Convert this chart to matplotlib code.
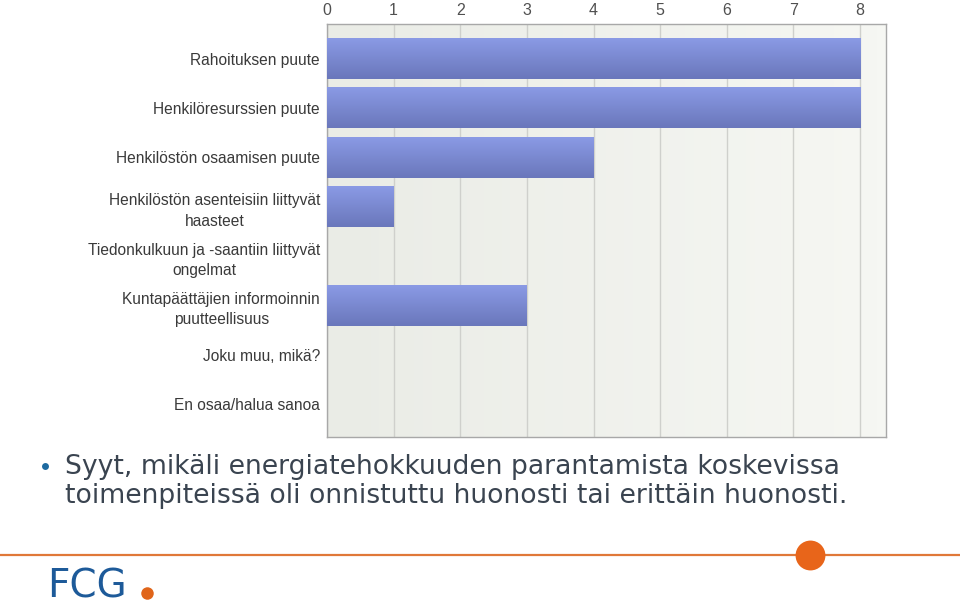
import numpy as np
import matplotlib
matplotlib.use("Agg")
import matplotlib.pyplot as plt
from matplotlib.colors import to_rgb

# vastaukset
kategoriat = [
    "Rahoituksen puute",
    "Henkilöresurssien puute",
    "Henkilöstön osaamisen puute",
    "Henkilöstön asenteisiin liittyvät\nhaasteet",
    "Tiedonkulkuun ja -saantiin liittyvät\nongelmat",
    "Kuntapäättäjien informoinnin\npuutteellisuus",
    "Joku muu, mikä?",
    "En osaa/halua sanoa",
]
arvot = [8, 8, 4, 1, 0, 3, 0, 0]
x_tikit = list(range(0, 9))

teksti = ("Syyt, mikäli energiatehokkuuden parantamista koskevissa\n"
          "toimenpiteissä oli onnistuttu huonosti tai erittäin huonosti.")

fig = plt.figure(figsize=(9.6, 6.05), dpi=100)
ax = fig.add_axes([327 / 960, 1 - 437 / 605, 559 / 960, 413 / 605])

y = np.arange(len(kategoriat))
palkit = ax.barh(y, arvot, height=0.83, color="#7a88d2", zorder=3)

# liukuvärit palkkeihin
ylä = np.array(to_rgb("#8b9be6"))
ala = np.array(to_rgb("#6a77bb"))
t = np.linspace(0, 1, 64)[:, None, None]
grad = ylä * (1 - t) + ala * t
for p in palkit:
    if p.get_width() <= 0:
        continue
    x0, y0 = p.get_x(), p.get_y()
    x1, y1 = x0 + p.get_width(), y0 + p.get_height()
    im = ax.imshow(grad, extent=(x0, x1, y1, y0), aspect="auto", zorder=4,
                   interpolation="bilinear")
    im.set_clip_path(p)

# tausta
vasen = np.array(to_rgb("#eaece6"))
oikea = np.array(to_rgb("#f6f7f3"))
s = np.linspace(0, 1, 64)[None, :, None]
tausta = vasen * (1 - s) + oikea * s
ax.imshow(tausta, extent=(0, 8.39, 7.66, -0.70), aspect="auto", zorder=0)

ax.set_xlim(0, 8.39)
ax.set_ylim(7.66, -0.70)

ax.set_xticks(x_tikit)
ax.xaxis.tick_top()
ax.tick_params(axis="x", length=0, pad=4, labelsize=11.5, labelcolor="#505050")
ax.grid(axis="x", color="#cfd0cc", linewidth=1, zorder=1)
ax.set_axisbelow(True)

ax.set_yticks(y)
ax.set_yticklabels(kategoriat, fontsize=11.2, color="#3a3a3a",
                   family="Liberation Sans")
for lbl in ax.get_yticklabels():
    lbl.set_multialignment("center")
    lbl.set_linespacing(1.45)
ax.tick_params(axis="y", length=0, pad=5)
for lbl in ax.get_xticklabels():
    lbl.set_family("Liberation Sans")

for sp in ax.spines.values():
    sp.set_color("#a8a8a8")
    sp.set_linewidth(1)

# alateksti
fig.add_artist(plt.Line2D([45 / 960], [1 - 466 / 605], marker="o",
                          markersize=5, color="#1d6aa0", markeredgewidth=0,
                          transform=fig.transFigure))
fig.text(65 / 960, 1 - 503 / 605, teksti, fontsize=19.2, color="#3a4450",
         ha="left", va="baseline", linespacing=1.17)

# oranssi viiva ja pallo
fig.add_artist(plt.Line2D([0, 1], [1 - 555 / 605, 1 - 555 / 605],
                          color="#e07838", linewidth=1.6, transform=fig.transFigure))
fig.add_artist(plt.Line2D([810 / 960], [1 - 555 / 605], marker="o",
                          markersize=21.5, color="#e8651a", markeredgewidth=0,
                          transform=fig.transFigure))

# logo
fig.text(47 / 960, 1 - 598 / 605, "FCG", fontsize=28, color="#1d5a99",
         ha="left", va="baseline", family="DejaVu Sans")
fig.add_artist(plt.Line2D([147 / 960], [1 - 593 / 605], marker="o",
                          markersize=9, color="#e0651a", markeredgewidth=0,
                          transform=fig.transFigure))

fig.savefig("out.png", dpi=100)
